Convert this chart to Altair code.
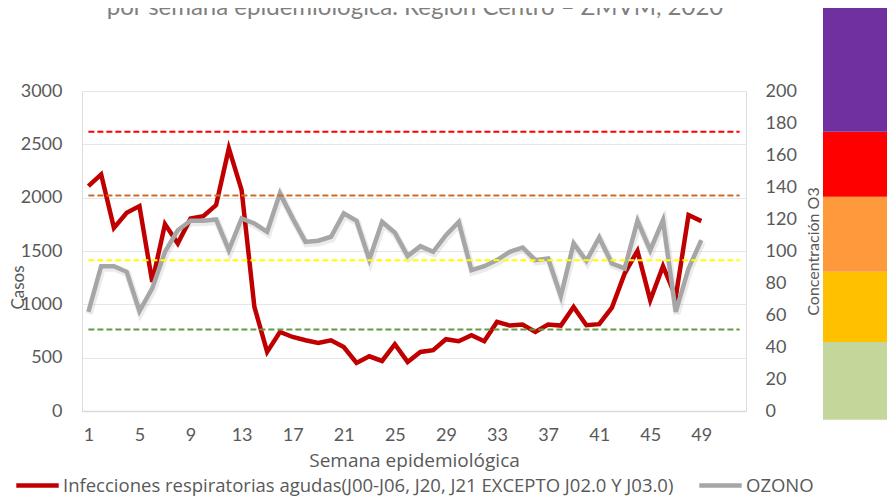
import altair as alt
import pandas as pd

# ---------------- data ----------------
semanas = list(range(1, 50))
casos = [2108, 2218, 1717, 1858, 1921, 1210, 1752, 1571, 1805, 1827,
         1930, 2462, 2071, 976, 554, 741, 694, 663, 638, 663,
         600, 450, 513, 469, 626, 460, 554, 570, 673, 654,
         710, 654, 835, 801, 811, 741, 811, 801, 976, 804,
         814, 970, 1289, 1501, 1039, 1358, 1070, 1837, 1780]
ozono = [61.9, 90.5, 90.5, 87, 62.4, 76.6, 99.5, 113, 118.9, 118.9,
         119.7, 100.5, 120.4, 117.2, 112, 136, 120.4, 105.7, 106.4, 108.9,
         123.5, 118.9, 94.7, 118.2, 111.4, 96.8, 103, 99.5, 109.9, 118.2,
         88, 90.5, 94.3, 99.5, 102.2, 94.3, 95.3, 71.8, 104.7, 93.8,
         108.5, 92.2, 89.1, 118.9, 100.5, 119.3, 61.9, 89.1, 106.8]
umbral_valores = [2618, 2021, 1414, 764]
umbral_colores = ['#FF0000', '#CC6D2E', '#FFFF00', '#649A44']
banda_inferior = [-5.4, 43.2, 87, 133.9, 174.5]
banda_superior = [43.2, 87, 133.9, 174.5, 253]
banda_colores = ['#C4D79B', '#FFC000', '#FF9A3C', '#FF0000', '#7030A0']
x_ticks = list(range(1, 50, 4))
y_ticks_casos = [0, 500, 1000, 1500, 2000, 2500, 3000]
y_ticks_ozono = [0, 20, 40, 60, 80, 100, 120, 140, 160, 180, 200]

serie_ira = "Infecciones respiratorias agudas(J00-J06, J20, J21 EXCEPTO J02.0 Y J03.0)"
serie_oz = "OZONO"
titulo = ["por semana epidemiológica. Región Centro – ZMVM, 2020"]

df_ira = pd.DataFrame({'semana': semanas, 'valor': casos, 'serie': serie_ira})
df_oz = pd.DataFrame({'semana': semanas, 'valor': ozono, 'serie': serie_oz})
df_umb = pd.DataFrame({'ini': 1, 'fin': 52, 'valor': umbral_valores, 'color': umbral_colores})
df_band = pd.DataFrame({'y0': banda_inferior, 'y1': banda_superior, 'color': banda_colores})
df_tit = pd.DataFrame({'t': titulo})

FONT = 'Lato'
FONT2 = 'Open Sans'
TXT = '#595959'

xscale = alt.Scale(domain=[0.5, 52.5], nice=False, zero=False)
xaxis = alt.Axis(values=x_ticks, grid=False, ticks=False, tickSize=0, labelPadding=15,
                 labelFontSize=18, labelColor=TXT, labelFont=FONT, labelFlush=False,
                 domainColor='#D9D9D9', domainWidth=1.5,
                 title='Semana epidemiológica', titleFontSize=19, titleFont=FONT2,
                 titleFontWeight='normal', titleColor=TXT, titlePadding=7)
x_enc = alt.X('semana:Q', scale=xscale, axis=xaxis)

yl_scale = alt.Scale(domain=[0, 3000], nice=False, zero=True)
yr_scale = alt.Scale(domain=[0, 200], nice=False, zero=True)

yl_axis = alt.Axis(orient='left', values=y_ticks_casos, format='d', grid=True, gridColor='#E6E6E6',
                   gridWidth=1, domain=False, ticks=False, tickSize=0, labelPadding=20,
                   labelFontSize=18, labelColor=TXT, labelFont=FONT, title='Casos',
                   titleFontSize=17, titleFont=FONT, titleFontWeight='normal', titleColor=TXT,
                   titleX=-64, titleY=196, titleAlign='center', titleBaseline='middle')
yr_axis = alt.Axis(orient='right', values=y_ticks_ozono, format='d', grid=False, domain=False,
                   ticks=False, tickSize=0, labelPadding=19, labelFontSize=18, labelColor=TXT,
                   labelFont=FONT, title='Concentración O3', titleFontSize=16, titleFont=FONT,
                   titleFontWeight='normal', titleColor=TXT, titleAngle=270,
                   titleX=67, titleAlign='center', titleBaseline='middle')

color_scale = alt.Scale(domain=[serie_ira, serie_oz], range=['#C00000', '#A6A6A6'])
color_leg = alt.Legend(title=None, orient='none', legendX=-68, legendY=371, direction='horizontal',
                       symbolType='stroke', symbolStrokeWidth=4.5, symbolSize=1800,
                       labelFontSize=18.5, labelFont=FONT2, labelColor=TXT, labelLimit=900,
                       labelOffset=2, columnPadding=16)
color_enc = alt.Color('serie:N', scale=color_scale, legend=color_leg)

bands = alt.Chart(df_band).mark_rect().encode(
    x=alt.value(741), x2=alt.value(807),
    y=alt.Y('y0:Q', scale=yr_scale, axis=None), y2='y1:Q',
    fill=alt.Fill('color:N', scale=None)
)

red = alt.Chart(df_ira).mark_line(strokeWidth=4.5, strokeJoin='miter').encode(
    x=x_enc, y=alt.Y('valor:Q', scale=yl_scale, axis=yl_axis), color=color_enc
)

gray_shadow = alt.Chart(df_oz).mark_line(strokeWidth=7, opacity=0.08, yOffset=2, xOffset=1).encode(
    x=x_enc, y=alt.Y('valor:Q', scale=yr_scale, axis=None), stroke=alt.value('#000000')
)

gray = alt.Chart(df_oz).mark_line(strokeWidth=4.5, strokeJoin='miter').encode(
    x=x_enc, y=alt.Y('valor:Q', scale=yr_scale, axis=yr_axis), color=color_enc
)

rules = alt.Chart(df_umb).mark_rule(strokeDash=[6, 3], strokeWidth=2).encode(
    x=alt.X('ini:Q', scale=xscale, axis=xaxis), x2='fin:Q',
    y=alt.Y('valor:Q', scale=yl_scale, axis=None),
    stroke=alt.Stroke('color:N', scale=None)
)

title_txt = alt.Chart(df_tit).mark_text(fontSize=24, font=FONT, color='#7F7F7F',
                                        baseline='alphabetic', align='center').encode(
    text='t:N', x=alt.value(333), y=alt.value(-76)
)

chart = alt.layer(bands, red, gray_shadow, gray, rules, title_txt).resolve_scale(
    y='independent'
).properties(
    width=664, height=320,
    autosize=alt.AutoSizeParams(type='none'),
    padding={'left': 74, 'top': 83, 'right': 141, 'bottom': 86}
).configure_view(stroke=None).configure(font=FONT, background='white')

chart.save("out.html", embed_options={"renderer": "svg", "actions": False})
